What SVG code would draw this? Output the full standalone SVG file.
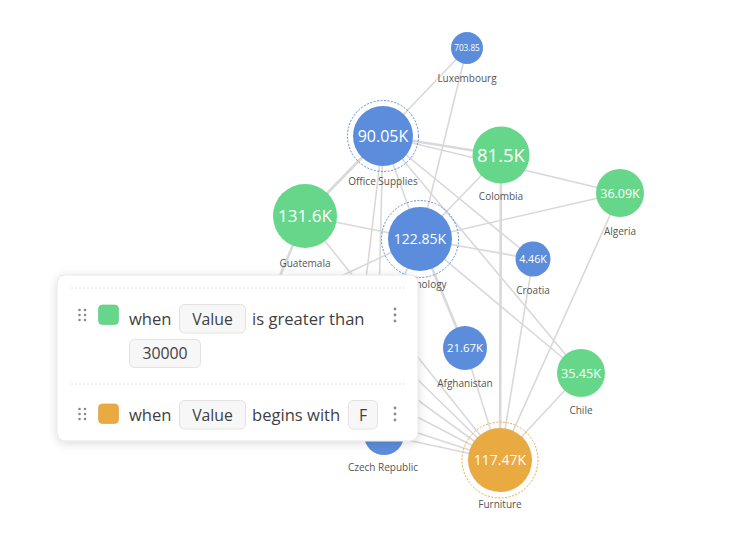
<svg xmlns="http://www.w3.org/2000/svg" width="744" height="546" viewBox="0 0 744 546">
<style>
.e{stroke:#d9d9d9;stroke-width:1.6;fill:none}
.ew{stroke:#d9d9d9;stroke-width:2.6;fill:none}
.b{fill:#5b8ddc}
.g{fill:#66d68a}
.o{fill:#eaaa42}
.v{fill:#fff;font-family:"Open Sans","Noto Sans",sans-serif;text-anchor:middle}
.lb{fill:#555;font-family:"Open Sans","Noto Sans",sans-serif;font-size:10px;text-anchor:middle}
.ring{fill:none;stroke:#5b8ddc;stroke-width:1;stroke-dasharray:2 1.5}
.ringo{fill:none;stroke:#eaaa42;stroke-width:1;stroke-dasharray:2 1.5}
.pt{fill:#3f3f3f;font-family:"Open Sans","Noto Sans",sans-serif;font-size:16.6px}
.box{fill:#f7f7f7;stroke:#e2e2e2;stroke-width:1}
.bt{fill:#3f3f3f;font-family:"Open Sans","Noto Sans",sans-serif;font-size:15.8px;text-anchor:middle}
.dot{fill:#8a8a8a}
.dl{stroke:#e2e2e2;stroke-width:1;stroke-dasharray:2 2}
</style>
<defs>
<filter id="sh" x="-10%" y="-15%" width="120%" height="135%">
<feDropShadow dx="0" dy="2" stdDeviation="5" flood-color="#000" flood-opacity="0.14"/>
</filter>
</defs>
<rect width="744" height="546" fill="#fff"/>
<g id="connectors">
<line class="e" x1="467" y1="48" x2="383" y2="136"/>
<line class="e" x1="467" y1="48" x2="420" y2="239"/>
<line class="ew" x1="383" y1="136" x2="501" y2="155"/>
<line class="e" x1="383" y1="136" x2="620" y2="193"/>
<line class="ew" x1="383" y1="136" x2="305" y2="216"/>
<line class="e" x1="383" y1="136" x2="420" y2="239"/>
<line class="e" x1="383" y1="136" x2="533" y2="259"/>
<line class="e" x1="383" y1="136" x2="581" y2="373"/>
<line class="e" x1="383" y1="136" x2="360" y2="330"/>
<line class="e" x1="383" y1="136" x2="378" y2="340"/>
<line class="e" x1="501" y1="155" x2="420" y2="239"/>
<line class="ew" x1="501" y1="155" x2="500" y2="460"/>
<line class="e" x1="620" y1="193" x2="420" y2="239"/>
<line class="e" x1="620" y1="193" x2="500" y2="460"/>
<line class="e" x1="305" y1="216" x2="420" y2="239"/>
<line class="e" x1="305" y1="216" x2="500" y2="460"/>
<line class="ew" x1="305" y1="216" x2="270" y2="300"/>
<line class="e" x1="420" y1="239" x2="533" y2="259"/>
<line class="e" x1="420" y1="239" x2="581" y2="373"/>
<line class="ew" x1="420" y1="239" x2="465" y2="348"/>
<line class="e" x1="420" y1="239" x2="290" y2="300"/>
<line class="e" x1="420" y1="239" x2="385" y2="320"/>
<line class="e" x1="533" y1="259" x2="500" y2="460"/>
<line class="e" x1="465" y1="348" x2="500" y2="460"/>
<line class="e" x1="581" y1="373" x2="500" y2="460"/>
<line class="e" x1="384" y1="435" x2="500" y2="460"/>
<line class="e" x1="330" y1="294" x2="500" y2="460"/>
<line class="e" x1="260" y1="285" x2="500" y2="460"/>
<line class="e" x1="200" y1="304" x2="500" y2="460"/>
<line class="e" x1="150" y1="345" x2="500" y2="460"/>
</g>
<g id="n-luxembourg">
<circle class="b" cx="467" cy="48" r="16"/>
<text class="v" x="467" y="51" font-size="8.2">703.85</text>
<text class="lb" x="467" y="82">Luxembourg</text>
</g>
<g id="n-office-supplies">
<circle class="ring" cx="383" cy="136" r="35.5"/>
<circle class="b" cx="383" cy="136" r="30"/>
<text class="v" x="383" y="142" font-size="16">90.05K</text>
<text class="lb" x="383" y="185">Office Supplies</text>
</g>
<g id="n-colombia">
<circle class="g" cx="501" cy="155" r="28.5"/>
<text class="v" x="501" y="162" font-size="18.5">81.5K</text>
<text class="lb" x="501" y="200">Colombia</text>
</g>
<g id="n-guatemala">
<circle class="g" cx="305" cy="216" r="32"/>
<text class="v" x="305" y="222" font-size="17">131.6K</text>
<text class="lb" x="305" y="267">Guatemala</text>
</g>
<g id="n-technology">
<circle class="ring" cx="420" cy="239" r="38.5"/>
<circle class="b" cx="420" cy="239" r="32"/>
<text class="v" x="420" y="244" font-size="14">122.85K</text>
<text class="lb" x="420" y="288">Technology</text>
</g>
<g id="n-algeria">
<circle class="g" cx="620" cy="193" r="24"/>
<text class="v" x="620" y="197.5" font-size="12.5">36.09K</text>
<text class="lb" x="620" y="235">Algeria</text>
</g>
<g id="n-croatia">
<circle class="b" cx="533" cy="259" r="17.5"/>
<text class="v" x="533" y="263" font-size="10.7">4.46K</text>
<text class="lb" x="533" y="294">Croatia</text>
</g>
<g id="n-afghanistan">
<circle class="b" cx="465" cy="348" r="22"/>
<text class="v" x="465" y="352" font-size="11.4">21.67K</text>
<text class="lb" x="465" y="387">Afghanistan</text>
</g>
<g id="n-chile">
<circle class="g" cx="581" cy="373" r="24"/>
<text class="v" x="581" y="377.5" font-size="12.7">35.45K</text>
<text class="lb" x="581" y="414">Chile</text>
</g>
<g id="n-czech-republic">
<circle class="b" cx="384" cy="435" r="20"/>
<text class="lb" x="383" y="471">Czech Republic</text>
</g>
<g id="n-furniture">
<circle class="ringo" cx="500" cy="460" r="38"/>
<circle class="o" cx="500" cy="460" r="32"/>
<text class="v" x="500" y="465" font-size="14">117.47K</text>
<text class="lb" x="500" y="508">Furniture</text>
</g>
<g id="panel">
<rect x="57" y="275" width="361" height="166" rx="8" fill="#fff" stroke="#e6e6e6" stroke-width="1" filter="url(#sh)"/>
<line class="dl" x1="71" y1="288" x2="406" y2="288"/>
<line class="dl" x1="71" y1="384" x2="406" y2="384"/>
<g id="rule-1">
<circle class="dot" cx="79.5" cy="310" r="1.3"/><circle class="dot" cx="85" cy="310" r="1.3"/>
<circle class="dot" cx="79.5" cy="315" r="1.3"/><circle class="dot" cx="85" cy="315" r="1.3"/>
<circle class="dot" cx="79.5" cy="320" r="1.3"/><circle class="dot" cx="85" cy="320" r="1.3"/>
<rect x="98.5" y="305" width="20" height="19.5" rx="4" fill="#66d68a" stroke="#5cc47d" stroke-width="0.6"/>
<text class="pt" x="129" y="325">when</text>
<rect class="box" x="179.5" y="304.5" width="66" height="28.5" rx="5"/>
<text class="bt" x="212.5" y="324.5">Value</text>
<text class="pt" x="252" y="325">is greater than</text>
<circle class="dot" cx="395" cy="309" r="1.4"/><circle class="dot" cx="395" cy="315" r="1.4"/><circle class="dot" cx="395" cy="321" r="1.4"/>
<rect class="box" x="129.5" y="339.5" width="71" height="28" rx="5"/>
<text class="bt" x="165" y="359">30000</text>
</g>
<g id="rule-2">
<circle class="dot" cx="79.5" cy="409" r="1.3"/><circle class="dot" cx="85" cy="409" r="1.3"/>
<circle class="dot" cx="79.5" cy="414" r="1.3"/><circle class="dot" cx="85" cy="414" r="1.3"/>
<circle class="dot" cx="79.5" cy="419" r="1.3"/><circle class="dot" cx="85" cy="419" r="1.3"/>
<rect x="98.5" y="404" width="20" height="19.5" rx="4" fill="#eaaa42" stroke="#d8983a" stroke-width="0.6"/>
<text class="pt" x="129" y="421">when</text>
<rect class="box" x="179.5" y="400.5" width="66" height="28.5" rx="5"/>
<text class="bt" x="212.5" y="420.5">Value</text>
<text class="pt" x="252" y="421">begins with</text>
<rect class="box" x="348.5" y="400.5" width="29" height="28.5" rx="5"/>
<text class="bt" x="363" y="420.5">F</text>
<circle class="dot" cx="395" cy="408" r="1.4"/><circle class="dot" cx="395" cy="414" r="1.4"/><circle class="dot" cx="395" cy="420" r="1.4"/>
</g>
</g>
</svg>
